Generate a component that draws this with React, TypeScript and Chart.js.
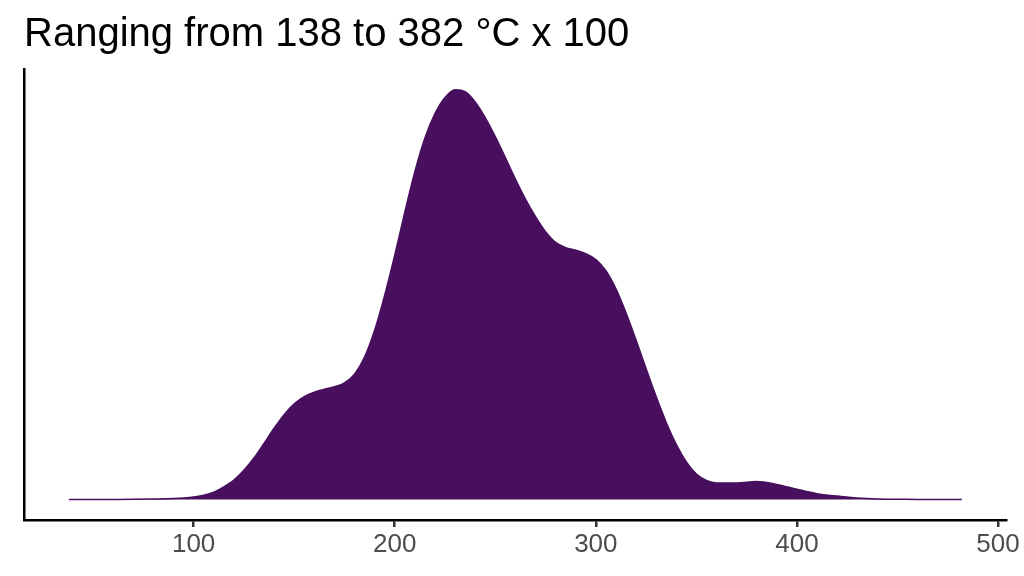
import React, { useEffect, useRef } from 'react';
import { Chart, registerables } from 'chart.js';

Chart.register(...registerables);

const chartTitle = 'Ranging from 138 to 382 °C x 100';

// temperature grid (°C x 100) and estimated kernel density
const temps = [
    38, 50, 60, 70, 80, 90, 95, 100, 105, 110, 115, 120, 125, 130, 135, 140, 145, 150, 155, 160,
    165, 170, 175, 180, 185, 190, 195, 200, 205, 210, 215, 220, 225, 230, 235, 240, 245, 250, 255,
    260, 265, 270, 275, 280, 285, 290, 295, 300, 305, 310, 315, 320, 325, 330, 335, 340, 345, 350,
    355, 360, 370, 380, 390, 400, 410, 420, 430, 440, 450, 460, 470, 482,
];
const density = [
    0, 0.000001, 0.000002, 0.000004, 0.00001, 0.00002, 0.00003, 0.00005, 0.00009, 0.00015,
    0.00026, 0.0004, 0.0006, 0.00085, 0.00115, 0.00146, 0.00174, 0.00196, 0.00211, 0.0022,
    0.00226, 0.00231, 0.00239, 0.00257, 0.00292, 0.00347, 0.00419, 0.00501, 0.00589, 0.00672,
    0.00741, 0.00791, 0.00824, 0.0084, 0.00836, 0.00815, 0.00783, 0.00744, 0.00701, 0.00657,
    0.00616, 0.0058, 0.00549, 0.00527, 0.00516, 0.00511, 0.00504, 0.00492, 0.00469, 0.00432,
    0.00383, 0.00327, 0.00268, 0.00211, 0.00158, 0.00113, 0.00077, 0.00052, 0.00039, 0.00034,
    0.00034, 0.00037, 0.00031, 0.00021, 0.00012, 0.00007, 0.00003, 0.00001, 0.000006, 0.000002,
    0.000001, 0,
];
const xTicks = [100, 200, 300, 400, 500];

const fillColor = '#480F5E';
const font = '"Liberation Sans", Arial, sans-serif';

const titlePlugin = {
    id: 'plotTitle',
    afterDraw(chart: Chart) {
        const ctx = chart.ctx;
        ctx.save();
        ctx.font = `40px ${font}`;
        ctx.fillStyle = '#000000';
        ctx.textAlign = 'left';
        ctx.textBaseline = 'alphabetic';
        ctx.fillText(chartTitle, 24, 46);
        ctx.restore();
    },
};

function DensityChart() {
    const chartRef = useRef<HTMLCanvasElement | null>(null);
    const chartInstance = useRef<Chart | null>(null);

    useEffect(() => {
        if (chartRef.current) {
            if (chartInstance.current) {
                chartInstance.current.destroy();
            }

            const ctx = chartRef.current.getContext('2d');
            if (ctx) {
                const xSpan = Math.max(...temps) - Math.min(...temps);
                const yPeak = Math.max(...density);

                chartInstance.current = new Chart(ctx, {
                    type: 'line',
                    data: {
                        datasets: [{
                            data: temps.map((t, i) => ({ x: t, y: density[i] })),
                            borderColor: fillColor,
                            backgroundColor: fillColor,
                            borderWidth: 1.5,
                            fill: 'origin',
                            pointRadius: 0,
                            cubicInterpolationMode: 'monotone',
                        }],
                    },
                    options: {
                        responsive: false,
                        animation: false,
                        layout: {
                            padding: { top: 69.3, left: 24.3, right: 17.5, bottom: 0 },
                        },
                        plugins: {
                            legend: { display: false },
                            tooltip: { enabled: false },
                        },
                        scales: {
                            x: {
                                type: 'linear',
                                min: Math.min(...temps) - 0.05 * xSpan,
                                max: Math.max(...temps) + 0.05 * xSpan,
                                afterBuildTicks: (scale: any) => {
                                    scale.ticks = xTicks.map(v => ({ value: v }));
                                },
                                afterFit: (scale: any) => {
                                    scale.height = 56;
                                },
                                grid: {
                                    display: true,
                                    drawOnChartArea: false,
                                    drawTicks: true,
                                    tickLength: 7,
                                    color: '#333333',
                                    lineWidth: 2.5,
                                },
                                border: { display: true, color: '#000000', width: 2.5 },
                                ticks: {
                                    color: '#4D4D4D',
                                    padding: 2,
                                    maxRotation: 0,
                                    font: { family: font, size: 26 },
                                },
                            },
                            y: {
                                type: 'linear',
                                min: -0.05 * yPeak,
                                max: 1.05 * yPeak,
                                grid: { display: false, drawTicks: false },
                                border: { display: true, color: '#000000', width: 2.5 },
                                ticks: { display: false },
                            },
                        },
                    },
                    plugins: [titlePlugin],
                });
            }
        }

        return () => {
            if (chartInstance.current) {
                chartInstance.current.destroy();
                chartInstance.current = null;
            }
        };
    }, []);

    return <canvas ref={chartRef} width={1024} height={576} />;
}

export default function App() {
    return (
        <div style={{ position: 'absolute', left: 0, top: 0, width: 1024, height: 576, background: '#ffffff' }}>
            <DensityChart />
        </div>
    );
}
